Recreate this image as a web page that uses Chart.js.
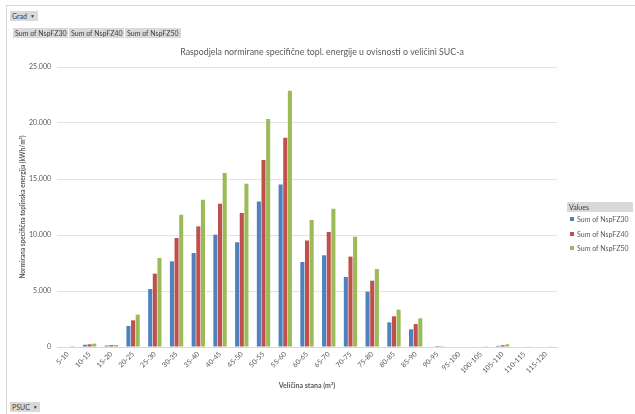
<!DOCTYPE html>
<html>
<head>
<meta charset="utf-8">
<script src="https://cdn.jsdelivr.net/npm/chart.js@4.4.1/dist/chart.umd.min.js"></script>
<style>
  html, body { margin: 0; padding: 0; background: #fff; }
  #wrap { position: relative; width: 635px; height: 414px; overflow: hidden; font-family: Lato, "Open Sans", sans-serif; }
  #frame { position: absolute; left: 6px; top: 5px; right: -2px; bottom: -2px; border-left: 1px solid #d9d9d9; border-top: 1px solid #d9d9d9; }
  canvas { position: absolute; left: 0; top: 0; }
  .btn { position: absolute; background: #d9d9d9; color: #404040; font-size: 7px; line-height: 10px; height: 10px; white-space: nowrap; padding: 0 2px; box-sizing: border-box; }
  .btn .arr { font-size: 5px; margin-left: 3px; vertical-align: 1px; }
  #legend { position: absolute; left: 567px; top: 202px; width: 66px; font-size: 7px; color: #595959; }
  #legend .hdr { background: #d9d9d9; height: 10px; line-height: 10px; padding-left: 2px; color: #404040; margin-bottom: 2px; }
  #legend .item { height: 14.5px; line-height: 10px; white-space: nowrap; padding-left: 3px; }
  #legend .sw { display: inline-block; width: 4px; height: 4px; margin-right: 3px; vertical-align: 1px; }
</style>
</head>
<body>
<div id="wrap">
  <div id="frame"></div>
  <canvas id="c" width="635" height="414"></canvas>
  <div class="btn" style="left:10px;top:11px;width:28px;">Grad<span class="arr">▼</span></div>
  <div class="btn" style="left:13px;top:28px;width:55px;">Sum of NspFZ30</div>
  <div class="btn" style="left:69px;top:28px;width:55px;">Sum of NspFZ40</div>
  <div class="btn" style="left:125px;top:28px;width:56px;">Sum of NspFZ50</div>
  <div class="btn" style="left:10px;top:402px;width:30px;">PSUC<span class="arr">▼</span></div>
  <div id="legend"></div>
</div>
<script>
// Size classes of the dwelling unit (m²)
const categories = ['5-10', '10-15', '15-20', '20-25', '25-30', '30-35', '35-40', '40-45',
  '45-50', '50-55', '55-60', '60-65', '65-70', '70-75', '75-80', '80-85', '85-90',
  '90-95', '95-100', '100-105', '105-110', '110-115', '115-120'];

// Summed normalised specific heating energy per size class
const nspFZ30 = [0, 200, 130, 1880, 5180, 7650, 8390, 10030, 9350, 12980, 14500, 7590,
  8190, 6250, 4940, 2200, 1580, 0, 0, 0, 100, 0, 0];
const nspFZ40 = [0, 240, 170, 2380, 6550, 9730, 10770, 12800, 11960, 16690, 18690, 9510,
  10270, 8070, 5920, 2740, 2050, 90, 0, 0, 160, 0, 0];
const nspFZ50 = [80, 300, 180, 2890, 7950, 11810, 13150, 15540, 14580, 20360, 22890, 11350,
  12350, 9850, 6960, 3330, 2560, 80, 0, 70, 240, 60, 60];

const seriesNames = ['Sum of NspFZ30', 'Sum of NspFZ40', 'Sum of NspFZ50'];
const seriesColors = ['#4F81BD', '#C0504D', '#9BBB59'];

const yTicks = [0, 5000, 10000, 15000, 20000, 25000];

const chartTitle = 'Raspodjela normirane specifične topl. energije u ovisnosti o veličini SUC-a';

const FONT = 'Lato, "Open Sans", sans-serif';
const GREY = '#595959';

function fmt(v) {
  return String(v).replace(/\B(?=(\d{3})+(?!\d))/g, '.');
}

// Chart title, centred over the plot plus the legend column
const titlePlugin = {
  id: 'pivotTitle',
  afterDraw(chart) {
    const ctx = chart.ctx;
    ctx.save();
    ctx.fillStyle = GREY;
    ctx.font = '8.8px ' + FONT;
    ctx.textAlign = 'center';
    ctx.textBaseline = 'middle';
    ctx.fillText(chartTitle, 322, 52);
    ctx.restore();
  }
};

const datasets = [nspFZ30, nspFZ40, nspFZ50].map((d, i) => ({
  label: seriesNames[i],
  data: d,
  backgroundColor: seriesColors[i],
  borderWidth: 0,
  categoryPercentage: 0.64,
  barPercentage: 0.88
}));

new Chart(document.getElementById('c'), {
  type: 'bar',
  data: { labels: categories, datasets },
  plugins: [titlePlugin],
  options: {
    responsive: false,
    animation: false,
    layout: { padding: { left: 15, right: 78, top: 67, bottom: 20 } },
    plugins: {
      legend: { display: false },
      tooltip: { enabled: false },
      title: { display: false }
    },
    scales: {
      x: {
        grid: { display: false, drawTicks: false },
        border: { display: true, color: '#d9d9d9' },
        ticks: {
          color: GREY,
          font: { family: FONT, size: 7 },
          minRotation: 45, maxRotation: 45,
          autoSkip: false,
          padding: 3
        },
        title: {
          display: true,
          text: 'Veličina stana (m²)',
          color: GREY,
          font: { family: FONT, size: 7, weight: 'bold' },
          padding: { top: 0, bottom: 4 }
        },
        afterFit: s => { s.height = 47; }
      },
      y: {
        min: 0, max: 25000,
        afterBuildTicks: s => { s.ticks = yTicks.map(v => ({ value: v })); },
        grid: { color: '#e3e3e3', drawTicks: false },
        border: { display: false },
        ticks: {
          color: GREY,
          font: { family: FONT, size: 7 },
          padding: 6,
          callback: v => fmt(v)
        },
        title: {
          display: true,
          text: 'Normirana specifična toplinska energija (kWh/m²)',
          color: GREY,
          font: { family: FONT, size: 6.5, weight: 'bold' },
          padding: { top: 4, bottom: 4 }
        },
        afterFit: s => { s.width = 42; }
      }
    }
  }
});

// Legend panel built from the series definitions
const lg = document.getElementById('legend');
lg.innerHTML = '<div class="hdr">Values</div>' + seriesNames.map((n, i) =>
  '<div class="item"><span class="sw" style="background:' + seriesColors[i] + '"></span>' + n + '</div>'
).join('');
</script>
</body>
</html>
